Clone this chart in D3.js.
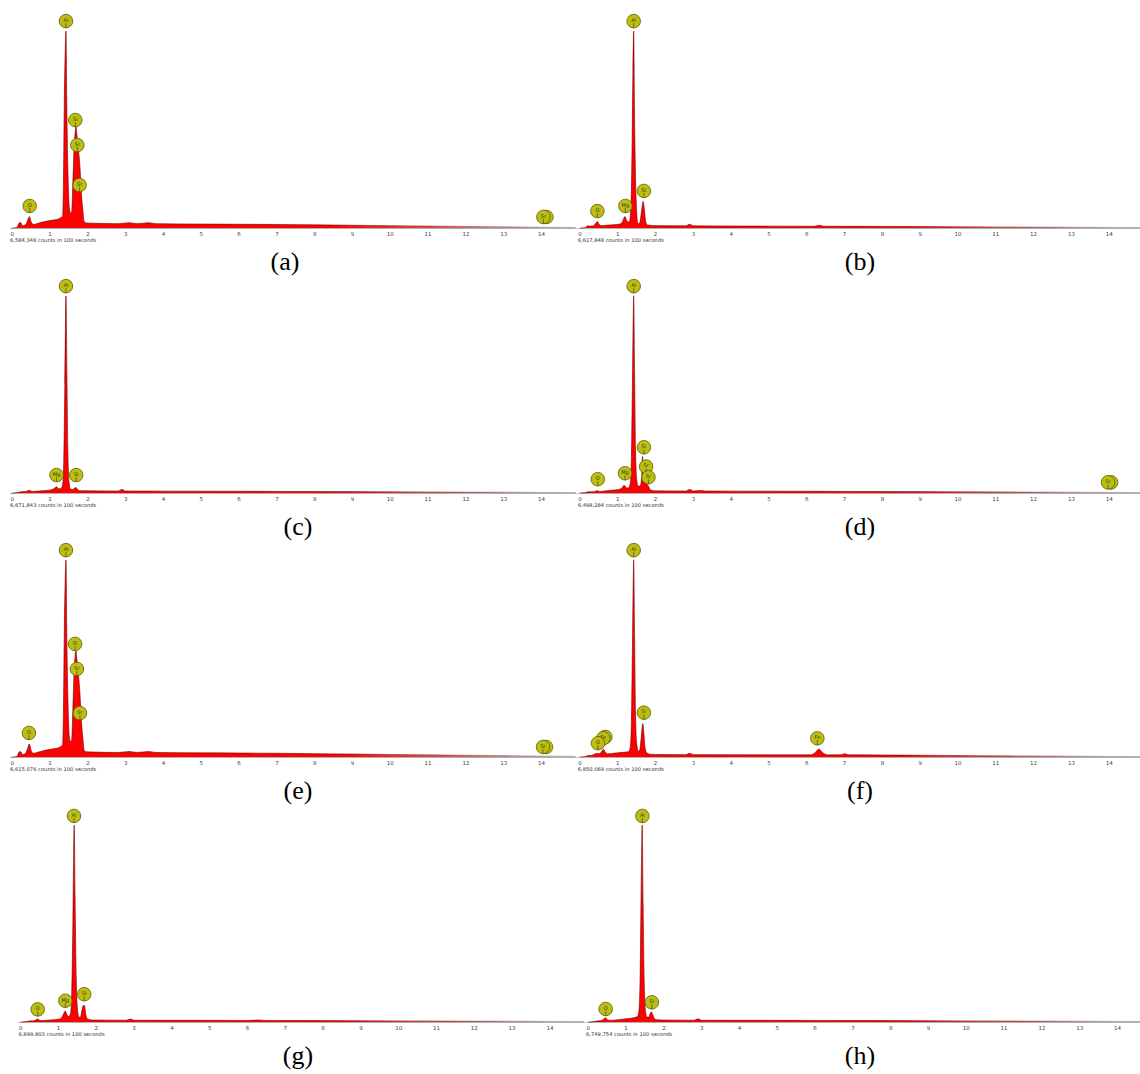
<!DOCTYPE html>
<html>
<head>
<meta charset="utf-8">
<script src="https://cdn.jsdelivr.net/npm/d3@7"></script>
<style>
  body { margin: 0; background: #fff; }
  svg { display: block; }
</style>
</head>
<body>
<div id="chart"></div>
<script>
// energy axis tick labels (keV)
const kevTicks = [0, 1, 2, 3, 4, 5, 6, 7, 8, 9, 10, 11, 12, 13, 14];
const panelNames = ["(a)", "(b)", "(c)", "(d)", "(e)", "(f)", "(g)", "(h)"];
const countTotals = ["6,584,346", "6,617,848", "6,671,843", "6,498,284",
                     "6,615,076", "6,850,069", "6,899,803", "6,749,754"];

// spectra: [keV, intensity in % of the Al peak]
const spectrumA = [[0,0],[0.12,0.3],[0.18,2.5],[0.22,2.8],[0.27,1.2],[0.34,1.5],[0.40,3.5],[0.45,5.8],[0.50,3],[0.56,1.8],[0.65,2.2],[0.8,3],[1.0,3.8],[1.2,4.5],[1.30,5.5],[1.333,6],[1.35,20],[1.376,65],[1.40,90],[1.42,100],[1.44,65],[1.46,40],[1.48,23],[1.51,10],[1.545,7.6],[1.57,8],[1.60,22],[1.63,39],[1.66,48],[1.685,51.5],[1.70,49],[1.75,40],[1.79,31],[1.83,17],[1.86,10.5],[1.905,3],[1.95,2.6],[2.2,2.4],[2.8,2.2],[3.1,2.7],[3.3,2.2],[3.6,2.7],[3.8,2.2],[5,2.0],[6,1.9],[7,1.8],[8,1.6],[9,1.4],[10,1.2],[11,1.0],[12,0.8],[13,0.6],[14,0.4],[14.9,0.3]];
const spectrumB = [[0,0],[0.15,0.3],[0.2,1.2],[0.25,1],[0.35,1],[0.42,2.5],[0.46,3.3],[0.50,2],[0.56,1.2],[0.7,1.4],[0.9,1.7],[1.05,2],[1.12,3],[1.16,5],[1.19,5.8],[1.23,4],[1.27,3],[1.31,3.5],[1.35,12],[1.38,45],[1.40,80],[1.42,100],[1.44,62],[1.47,25],[1.50,8],[1.53,2.5],[1.57,2.2],[1.61,6],[1.645,11],[1.67,13.5],[1.70,10],[1.73,4],[1.78,1.5],[2.0,1.2],[2.8,1.1],[2.9,1.9],[3.0,1.1],[4,1.0],[5,0.95],[6.2,0.9],[6.33,1.4],[6.45,0.9],[7,0.85],[8,0.8],[9,0.7],[10,0.6],[11,0.5],[12,0.45],[13,0.35],[14,0.3],[14.9,0.25]];
const spectrumC = [[0,0],[0.15,0.2],[0.22,0.6],[0.35,0.7],[0.45,1.4],[0.52,0.8],[0.7,1],[0.9,1.3],[1.05,1.7],[1.12,2.5],[1.17,3.2],[1.22,2.2],[1.28,2.2],[1.33,4],[1.36,15],[1.39,55],[1.42,100],[1.445,60],[1.47,22],[1.50,6],[1.54,2],[1.60,1.8],[1.65,2.5],[1.68,2.8],[1.72,2],[1.78,1.2],[2.0,1.1],[2.8,1.0],[2.9,1.8],[3.0,1.0],[4,0.95],[6,0.9],[7,0.8],[8,0.7],[10,0.6],[12,0.45],[14,0.3],[14.9,0.25]];
const spectrumD = [[0,0],[0.15,0.2],[0.22,0.6],[0.35,0.6],[0.46,1.2],[0.52,0.8],[0.7,1.1],[0.9,1.5],[1.05,1.9],[1.12,2.8],[1.16,3.8],[1.19,3.6],[1.23,2.6],[1.28,2.6],[1.33,5],[1.36,18],[1.39,60],[1.42,100],[1.445,60],[1.47,22],[1.50,7],[1.54,3.5],[1.59,3.5],[1.63,8],[1.655,18.5],[1.68,9],[1.72,5],[1.77,4.5],[1.81,3.5],[1.86,1.6],[1.95,1.1],[2.8,1.0],[2.9,1.8],[3.0,1.0],[3.2,1.3],[3.3,1.0],[4,0.95],[6,0.9],[7,0.8],[8,0.7],[10,0.6],[12,0.45],[14,0.3],[14.9,0.25]];
const spectrumE = [[0,0],[0.12,0.3],[0.18,2.5],[0.22,2.8],[0.27,1.2],[0.34,1.6],[0.40,4],[0.45,6.6],[0.50,3.2],[0.56,1.9],[0.65,2.3],[0.8,3.1],[1.0,3.9],[1.2,4.6],[1.30,5.6],[1.333,6.5],[1.35,20],[1.376,65],[1.40,90],[1.42,100],[1.44,65],[1.46,40],[1.48,23],[1.51,10],[1.545,7.8],[1.57,8.5],[1.60,23],[1.63,41],[1.66,51],[1.685,54],[1.70,51],[1.75,42],[1.79,32],[1.83,18],[1.86,11],[1.905,3.2],[1.95,2.7],[2.2,2.5],[2.8,2.3],[3.1,2.8],[3.3,2.3],[3.6,2.8],[3.8,2.3],[5,2.1],[6,2.0],[7,1.9],[8,1.7],[9,1.5],[10,1.3],[11,1.1],[12,0.9],[13,0.7],[14,0.5],[14.9,0.35]];
const spectrumF = [[0,0],[0.15,0.3],[0.22,0.8],[0.3,0.8],[0.40,1.6],[0.46,1.8],[0.52,1.7],[0.58,3],[0.62,3.9],[0.66,2.8],[0.72,1.6],[0.85,1.8],[1.0,2.1],[1.15,2.4],[1.28,2.7],[1.33,5],[1.36,18],[1.39,60],[1.42,100],[1.445,60],[1.47,22],[1.50,7],[1.54,3],[1.58,3.5],[1.62,10],[1.66,17],[1.69,12],[1.72,5],[1.77,2],[1.85,1.4],[2.0,1.3],[2.8,1.2],[2.9,1.9],[3.0,1.2],[4,1.15],[5,1.1],[6.1,1.1],[6.22,2.2],[6.32,4],[6.42,2.2],[6.55,1.1],[6.9,1.1],[7.0,1.7],[7.1,1.1],[8,1.0],[9,0.9],[10,0.75],[11,0.6],[12,0.5],[13,0.4],[14,0.3],[14.9,0.25]];
const spectrumG = [[0,0],[0.15,0.2],[0.22,0.5],[0.35,0.6],[0.45,1.5],[0.52,0.7],[0.7,0.9],[0.9,1.2],[1.05,1.6],[1.12,3.5],[1.16,5.2],[1.18,5.6],[1.22,3.8],[1.27,2.8],[1.32,4.5],[1.35,15],[1.38,50],[1.40,85],[1.415,100],[1.44,62],[1.47,22],[1.50,7],[1.54,2.5],[1.58,2.4],[1.62,6],[1.66,8.4],[1.69,8.2],[1.72,4],[1.77,1.5],[1.9,1.0],[2.8,0.9],[2.9,1.5],[3.0,0.9],[4,0.85],[6,0.8],[6.3,1.0],[6.5,0.8],[8,0.7],[10,0.55],[12,0.45],[14,0.3],[14.9,0.25]];
const spectrumH = [[0,0],[0.15,0.2],[0.22,0.5],[0.35,0.7],[0.42,1.6],[0.46,2.1],[0.50,1.2],[0.58,0.9],[0.8,1.2],[1.0,1.6],[1.2,2.2],[1.3,2.8],[1.34,6],[1.37,22],[1.40,70],[1.425,100],[1.45,60],[1.48,20],[1.51,6],[1.55,2.5],[1.60,2.5],[1.64,4.5],[1.67,5.1],[1.70,4],[1.74,2],[1.8,1.2],[2.0,1.0],[2.8,0.9],[2.9,1.6],[3.0,0.9],[4,0.85],[6,0.8],[8,0.7],[10,0.55],[12,0.45],[14,0.3],[14.9,0.25]];

// peak labels: [element, keV, level (% of Al peak) of the marker centre]
const labelsA = [["Al",1.42,105],["Si",1.667,54.8],["Sr",1.72,42.1],["Sr",1.78,21.8],["O",0.46,11.2],["Sr",14.13,5.6],["Sr",14.05,5.6]];
const labelsB = [["O",0.46,8.6],["Mg",1.20,11.2],["Al",1.42,105],["Si",1.69,18.8]];
const labelsC = [["Al",1.42,105],["Mg",1.17,9.1],["Si",1.69,9.1]];
const labelsD = [["O",0.47,7.0],["Mg",1.19,10],["Al",1.42,105],["Si",1.69,23.2],["Sr",1.75,13.4],["Sr",1.81,8.0],["Sr",14.05,5.4],["Sr",13.97,5.4]];
const labelsE = [["Al",1.42,105],["Si",1.66,57.4],["Sr",1.71,44.7],["Sr",1.79,22.3],["O",0.44,12.2],["Sr",14.12,5.1],["Sr",14.04,5.1]];
const labelsF = [["Fe",0.67,10.2],["Fe",0.615,9.5],["O",0.475,7.0],["Al",1.42,105],["Si",1.69,22.5],["Fe",6.28,9.5]];
const labelsG = [["Al",1.41,104.6],["O",0.45,6.4],["Mg",1.18,10.8],["Si",1.68,14.1]];
const labelsH = [["Al",1.43,104.6],["O",0.46,6.6],["Si",1.68,10]];

const spectra = [spectrumA, spectrumB, spectrumC, spectrumD, spectrumE, spectrumF, spectrumG, spectrumH];
const peakLabels = [labelsA, labelsB, labelsC, labelsD, labelsE, labelsF, labelsG, labelsH];

// where each panel sits on the page
const layout = [
  {x0: 12.3,  base: 228,  cap: 285},
  {x0: 580,   base: 228,  cap: 860},
  {x0: 12.3,  base: 493,  cap: 298},
  {x0: 580,   base: 493,  cap: 860},
  {x0: 12.3,  base: 757,  cap: 298},
  {x0: 580,   base: 757,  cap: 860},
  {x0: 20.7,  base: 1022, cap: 298},
  {x0: 588.3, base: 1022, cap: 860}
];

const W = 1140, H = 1074;
const pxPerKev = 37.8, peakPx = 197;

const svg = d3.select("#chart").append("svg")
    .attr("width", W)
    .attr("height", H);
const defs = svg.append("defs");

spectra.forEach((data, i) => {
    const L = layout[i];
    const x = d3.scaleLinear().domain([0, 14]).range([L.x0, L.x0 + 14 * pxPerKev]);
    const y = d3.scaleLinear().domain([0, 100]).range([L.base, L.base - peakPx]);
    const g = svg.append("g").attr("class", "panel");

    // fill fades from red to grey at the high energy end
    const fill = defs.append("linearGradient")
        .attr("id", "fill" + i)
        .attr("gradientUnits", "userSpaceOnUse")
        .attr("x1", x(8.5)).attr("x2", x(14.6)).attr("y1", 0).attr("y2", 0);
    fill.append("stop").attr("offset", 0).attr("stop-color", "#ff0000");
    fill.append("stop").attr("offset", 0.55).attr("stop-color", "#d85a5a");
    fill.append("stop").attr("offset", 1).attr("stop-color", "#b8b8b8");

    const edge = defs.append("linearGradient")
        .attr("id", "edge" + i)
        .attr("gradientUnits", "userSpaceOnUse")
        .attr("x1", x(8.5)).attr("x2", x(14.6)).attr("y1", 0).attr("y2", 0);
    edge.append("stop").attr("offset", 0).attr("stop-color", "#6a0000");
    edge.append("stop").attr("offset", 1).attr("stop-color", "#999");

    // baseline
    g.append("line")
        .attr("x1", x(-0.06)).attr("x2", x(14.93))
        .attr("y1", L.base + 0.5).attr("y2", L.base + 0.5)
        .attr("stroke", "#b0b0b0")
        .attr("stroke-width", 1);

    const area = d3.area()
        .x(d => x(d[0]))
        .y0(y(0))
        .y1(d => y(d[1]))
        .curve(d3.curveMonotoneX);
    const line = d3.line()
        .x(d => x(d[0]))
        .y(d => y(d[1]))
        .curve(d3.curveMonotoneX);

    g.append("path").datum(data)
        .attr("d", area)
        .attr("fill", `url(#fill${i})`);
    g.append("path").datum(data)
        .attr("d", line)
        .attr("fill", "none")
        .attr("stroke", `url(#edge${i})`)
        .attr("stroke-width", 0.6);

    // tick labels
    g.selectAll("text.tick")
        .data(kevTicks)
        .join("text")
        .attr("class", "tick")
        .attr("x", d => x(d))
        .attr("y", L.base + 7.5)
        .attr("text-anchor", "middle")
        .attr("font-family", "'DejaVu Sans', sans-serif")
        .attr("font-size", 5.5)
        .attr("fill", "#444")
        .text(d => d);

    g.append("text")
        .attr("x", x(-0.06))
        .attr("y", L.base + 13.5)
        .attr("font-family", "'DejaVu Sans', sans-serif")
        .attr("font-size", 5.2)
        .attr("fill", "#333")
        .text(`${countTotals[i]} counts in 100 seconds`);

    // element markers
    const mk = g.selectAll("g.marker")
        .data(peakLabels[i])
        .join("g")
        .attr("class", "marker")
        .attr("transform", d => `translate(${x(d[1])},${y(d[2])})`);
    mk.append("circle")
        .attr("r", 6.8)
        .attr("fill", "#bcbf10")
        .attr("stroke", "#5e5e00")
        .attr("stroke-width", 0.8);
    mk.append("text")
        .attr("y", 0.8)
        .attr("text-anchor", "middle")
        .attr("font-family", "'DejaVu Sans', sans-serif")
        .attr("font-size", 5)
        .attr("fill", "#333")
        .text(d => d[0]);
    mk.append("line")
        .attr("x1", 0).attr("x2", 0)
        .attr("y1", 2).attr("y2", 6.8)
        .attr("stroke", "#333")
        .attr("stroke-width", 0.6);

    // caption
    svg.append("text")
        .attr("x", L.cap)
        .attr("y", L.base + 42)
        .attr("text-anchor", "middle")
        .attr("font-family", "'Liberation Serif', 'Times New Roman', serif")
        .attr("font-size", 26)
        .attr("fill", "#000")
        .text(panelNames[i]);
});
</script>
</body>
</html>
